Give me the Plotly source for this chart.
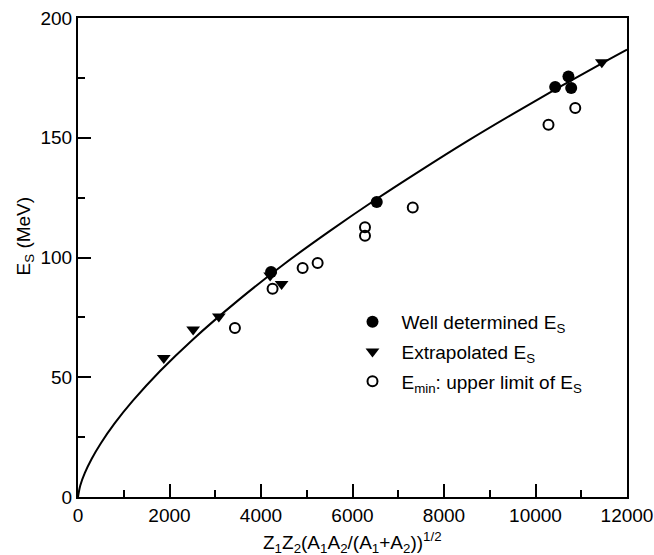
import plotly.graph_objects as go

# Data
well_x = [4220, 6530, 10430, 10720, 10780]
well_y = [93.9, 123.2, 171.2, 175.6, 170.8]

extra_x = [1875, 2517, 3079, 4200, 4450, 11450]
extra_y = [58.0, 69.9, 75.4, 92.5, 88.9, 181.5]

emin_x = [3430, 4253, 4910, 5238, 6273, 6273, 7317, 10284, 10869]
emin_y = [70.6, 87.0, 95.6, 97.7, 112.6, 109.1, 120.9, 155.4, 162.4]

curve_x = [0, 50, 150, 300, 500, 800, 1200, 1800, 2500, 3500, 4500, 5500,
           6500, 7500, 8500, 9500, 10500, 11500, 12000]
curve_y = [0, 4.84, 10.06, 15.97, 22.45, 30.7, 40.2, 52.7, 65.6, 82.1, 97.2,
           111.0, 124.1, 136.5, 148.5, 159.9, 170.9, 181.6, 186.8]

FONT = "Liberation Sans, Arial, Helvetica, sans-serif"
FS = 19

fig = go.Figure()
fig.add_trace(go.Scatter(x=curve_x, y=curve_y, mode="lines",
                         line=dict(color="black", width=2, shape="spline"),
                         showlegend=False, hoverinfo="skip"))
fig.add_trace(go.Scatter(x=extra_x, y=extra_y, mode="markers",
                         marker=dict(symbol="triangle-down", size=12, color="black"),
                         name="Extrapolated E<sub>S</sub>", legendrank=2, legendgroup="b"))
fig.add_trace(go.Scatter(x=emin_x, y=emin_y, mode="markers",
                         marker=dict(symbol="circle-open", size=10, color="black",
                                     line=dict(width=2, color="black")),
                         name="E<sub>min</sub>: upper limit of E<sub>S</sub>", legendrank=3,
                         legendgroup="c"))
fig.add_trace(go.Scatter(x=well_x, y=well_y, mode="markers",
                         marker=dict(symbol="circle", size=12, color="black"),
                         name="Well determined E<sub>S</sub>", legendrank=1, legendgroup="a"))

fig.update_xaxes(range=[0, 12000], dtick=2000, tickformat="d", automargin=False,
                 showgrid=False, zeroline=False, showline=True, linecolor="black", linewidth=2,
                 mirror=True, ticks="inside", tickcolor="black", tickwidth=2, ticklen=13,
                 tickfont=dict(family=FONT, size=FS, color="black"),
                 minor=dict(ticks="inside", ticklen=7, dtick=1000, tickcolor="black", tickwidth=2))
fig.update_yaxes(range=[0, 200], dtick=50, tickformat="d", automargin=False,
                 showgrid=False, zeroline=False, showline=True, linecolor="black", linewidth=2,
                 mirror=True, ticks="inside", tickcolor="black", tickwidth=2, ticklen=13,
                 tickfont=dict(family=FONT, size=FS, color="black"),
                 minor=dict(ticks="inside", ticklen=7, dtick=25, tickcolor="black", tickwidth=2))

fig.add_annotation(text="E<sub>S</sub> (MeV)", textangle=-90, xref="paper", yref="paper",
                   x=-0.097, y=0.5455, xanchor="center", yanchor="middle", showarrow=False,
                   font=dict(family=FONT, size=FS, color="black"))
fig.add_annotation(text="Z<sub>1</sub>Z<sub>2</sub>(A<sub>1</sub>A<sub>2</sub>/(A<sub>1</sub>+A<sub>2</sub>))<sup>1/2</sup>",
                   xref="paper", yref="paper", x=0.5, y=-0.094, xanchor="center",
                   yanchor="middle", showarrow=False,
                   font=dict(family=FONT, size=FS, color="black"))

fig.update_layout(
    width=654, height=555,
    margin=dict(l=78, r=27, t=18, b=58),
    paper_bgcolor="white", plot_bgcolor="white",
    legend=dict(x=0.4836, y=0.405, xanchor="left", yanchor="top",
                bgcolor="rgba(0,0,0,0)", tracegroupgap=2,
                font=dict(family=FONT, size=FS, color="black"),
                itemwidth=48),
)

fig.write_html("out.html")
